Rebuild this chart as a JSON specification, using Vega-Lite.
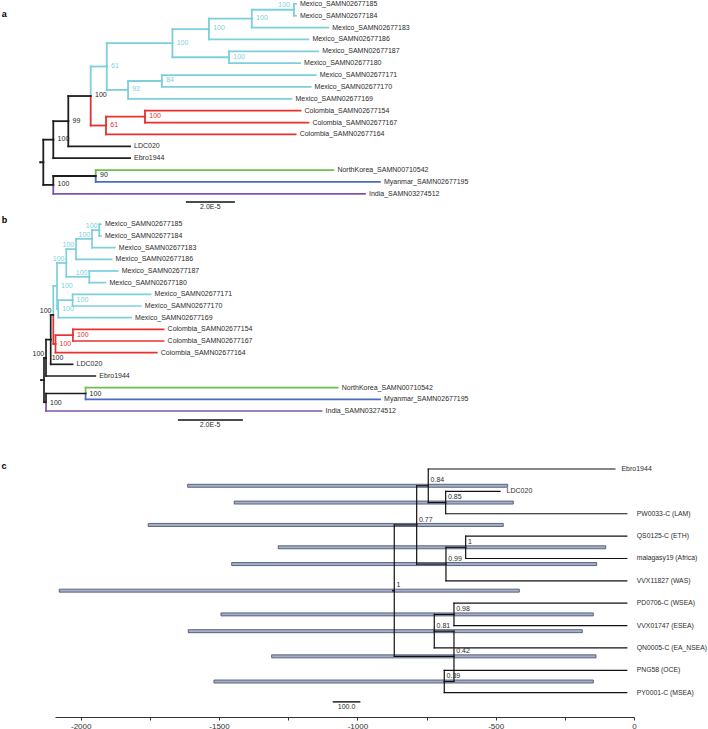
{
  "$schema": "https://vega.github.io/schema/vega-lite/v6.json",
  "width": 708,
  "height": 717,
  "autosize": {"type": "none"},
  "padding": {"left": 0, "top": 0, "right": 0, "bottom": 12},
  "background": "white",
  "config": {"view": {"stroke": null}, "font": "Liberation Sans"},
  "datasets": {
    "treeA": [
      {"id": "root", "clade": "Basal", "x": 0, "y": 13.346, "px": -1.2, "py": 13.346},
      {"id": "nIn", "clade": "Basal", "x": 4.08, "y": 11.441, "px": 0, "py": 13.346, "support": "100"},
      {"id": "nOut", "clade": "Basal", "x": 4.08, "y": 15.25, "px": 0, "py": 13.346, "support": "100"},
      {"id": "n99", "clade": "Basal", "x": 10.2, "y": 9.883, "px": 4.08, "py": 11.441, "support": "99"},
      {"id": "Ebro1944", "clade": "Basal", "x": 35.4, "y": 13, "px": 4.08, "py": 11.441, "name": "Ebro1944"},
      {"id": "nMC", "clade": "Basal", "x": 19.35, "y": 7.766, "px": 10.2, "py": 9.883, "support": "100"},
      {"id": "LDC020", "clade": "Basal", "x": 35.4, "y": 12, "px": 10.2, "py": 9.883, "name": "LDC020"},
      {"id": "nMex", "clade": "Mexico", "x": 25.9, "y": 5.281, "px": 19.35, "py": 7.766, "support": "61"},
      {"id": "nCol61", "clade": "Colombia", "x": 25.6, "y": 10.25, "px": 19.35, "py": 7.766, "support": "61"},
      {"id": "nUpper", "clade": "Mexico", "x": 52.7, "y": 3.313, "px": 25.9, "py": 5.281, "support": "100"},
      {"id": "n92", "clade": "Mexico", "x": 34.6, "y": 7.25, "px": 25.9, "py": 5.281, "support": "92"},
      {"id": "n186", "clade": "Mexico", "x": 67.6, "y": 2.125, "px": 52.7, "py": 3.313, "support": "100"},
      {"id": "n187_180", "clade": "Mexico", "x": 75.8, "y": 4.5, "px": 52.7, "py": 3.313, "support": "100"},
      {"id": "n183", "clade": "Mexico", "x": 85.1, "y": 1.25, "px": 67.6, "py": 2.125, "support": "100"},
      {"id": "M186", "clade": "Mexico", "x": 108.2, "y": 3, "px": 67.6, "py": 2.125, "name": "Mexico_SAMN02677186"},
      {"id": "n185_184", "clade": "Mexico", "x": 102.3, "y": 0.5, "px": 85.1, "py": 1.25, "support": "100"},
      {"id": "M183", "clade": "Mexico", "x": 116.3, "y": 2, "px": 85.1, "py": 1.25, "name": "Mexico_SAMN02677183"},
      {"id": "M185", "clade": "Mexico", "x": 103.1, "y": 0, "px": 102.3, "py": 0.5, "name": "Mexico_SAMN02677185"},
      {"id": "M184", "clade": "Mexico", "x": 103.1, "y": 1, "px": 102.3, "py": 0.5, "name": "Mexico_SAMN02677184"},
      {"id": "M187", "clade": "Mexico", "x": 112.2, "y": 4, "px": 75.8, "py": 4.5, "name": "Mexico_SAMN02677187"},
      {"id": "M180", "clade": "Mexico", "x": 104.8, "y": 5, "px": 75.8, "py": 4.5, "name": "Mexico_SAMN02677180"},
      {"id": "n84", "clade": "Mexico", "x": 48.4, "y": 6.5, "px": 34.6, "py": 7.25, "support": "84"},
      {"id": "M169", "clade": "Mexico", "x": 101.3, "y": 8, "px": 34.6, "py": 7.25, "name": "Mexico_SAMN02677169"},
      {"id": "M171", "clade": "Mexico", "x": 111.2, "y": 6, "px": 48.4, "py": 6.5, "name": "Mexico_SAMN02677171"},
      {"id": "M170", "clade": "Mexico", "x": 109.1, "y": 7, "px": 48.4, "py": 6.5, "name": "Mexico_SAMN02677170"},
      {"id": "nCol100", "clade": "Colombia", "x": 41.5, "y": 9.5, "px": 25.6, "py": 10.25, "support": "100"},
      {"id": "C164", "clade": "Colombia", "x": 103.0, "y": 11, "px": 25.6, "py": 10.25, "name": "Colombia_SAMN02677164"},
      {"id": "C154", "clade": "Colombia", "x": 105.0, "y": 9, "px": 41.5, "py": 9.5, "name": "Colombia_SAMN02677154"},
      {"id": "C167", "clade": "Colombia", "x": 108.2, "y": 10, "px": 41.5, "py": 9.5, "name": "Colombia_SAMN02677167"},
      {"id": "n90", "clade": "Basal", "x": 21.4, "y": 14.5, "px": 4.08, "py": 15.25, "support": "90"},
      {"id": "India", "clade": "India", "x": 131.3, "y": 16, "px": 4.08, "py": 15.25, "name": "India_SAMN03274512"},
      {"id": "NK", "clade": "NorthKorea", "x": 118.4, "y": 14, "px": 21.4, "py": 14.5, "name": "NorthKorea_SAMN00710542"},
      {"id": "Myanmar", "clade": "Myanmar", "x": 137.4, "y": 15, "px": 21.4, "py": 14.5, "name": "Myanmar_SAMN02677195"}
    ],
    "treeB": [
      {"id": "root", "clade": "Basal", "x": 0, "y": 13.346, "px": -0.9, "py": 13.346},
      {"id": "nIn", "clade": "Basal", "x": 0.62, "y": 11.441, "px": 0, "py": 13.346, "support": "100"},
      {"id": "nOut", "clade": "Basal", "x": 0.62, "y": 15.25, "px": 0, "py": 13.346, "support": "100"},
      {"id": "n99", "clade": "Basal", "x": 2.06, "y": 9.883, "px": 0.62, "py": 11.441, "support": "100"},
      {"id": "Ebro1944", "clade": "Basal", "x": 15.8, "y": 13, "px": 0.62, "py": 11.441, "name": "Ebro1944"},
      {"id": "nMC", "clade": "Basal", "x": 2.86, "y": 7.766, "px": 2.06, "py": 9.883, "support": "100"},
      {"id": "LDC020", "clade": "Basal", "x": 8.8, "y": 12, "px": 2.06, "py": 9.883, "name": "LDC020"},
      {"id": "nMex", "clade": "Mexico", "x": 4.0, "y": 5.281, "px": 2.86, "py": 7.766, "support": "100"},
      {"id": "nCol61", "clade": "Colombia", "x": 3.54, "y": 10.25, "px": 2.86, "py": 7.766, "support": "100"},
      {"id": "nUpper", "clade": "Mexico", "x": 6.86, "y": 3.313, "px": 4.0, "py": 5.281, "support": "100"},
      {"id": "n92", "clade": "Mexico", "x": 4.37, "y": 7.25, "px": 4.0, "py": 5.281, "support": "100"},
      {"id": "n186", "clade": "Mexico", "x": 9.85, "y": 2.125, "px": 6.86, "py": 3.313, "support": "100"},
      {"id": "n187_180", "clade": "Mexico", "x": 13.94, "y": 4.5, "px": 6.86, "py": 3.313, "support": "100"},
      {"id": "n183", "clade": "Mexico", "x": 14.77, "y": 1.25, "px": 9.85, "py": 2.125, "support": "100"},
      {"id": "M186", "clade": "Mexico", "x": 20.8, "y": 3, "px": 9.85, "py": 2.125, "name": "Mexico_SAMN02677186"},
      {"id": "n185_184", "clade": "Mexico", "x": 17.0, "y": 0.5, "px": 14.77, "py": 1.25, "support": "100"},
      {"id": "M183", "clade": "Mexico", "x": 21.8, "y": 2, "px": 14.77, "py": 1.25, "name": "Mexico_SAMN02677183"},
      {"id": "M185", "clade": "Mexico", "x": 17.5, "y": 0, "px": 17.0, "py": 0.5, "name": "Mexico_SAMN02677185"},
      {"id": "M184", "clade": "Mexico", "x": 17.5, "y": 1, "px": 17.0, "py": 0.5, "name": "Mexico_SAMN02677184"},
      {"id": "M187", "clade": "Mexico", "x": 22.7, "y": 4, "px": 13.94, "py": 4.5, "name": "Mexico_SAMN02677187"},
      {"id": "M180", "clade": "Mexico", "x": 18.9, "y": 5, "px": 13.94, "py": 4.5, "name": "Mexico_SAMN02677180"},
      {"id": "n171_170", "clade": "Mexico", "x": 8.8, "y": 6.5, "px": 4.37, "py": 7.25, "support": "100"},
      {"id": "M169", "clade": "Mexico", "x": 26.8, "y": 8, "px": 4.37, "py": 7.25, "name": "Mexico_SAMN02677169"},
      {"id": "M171", "clade": "Mexico", "x": 32.8, "y": 6, "px": 8.8, "py": 6.5, "name": "Mexico_SAMN02677171"},
      {"id": "M170", "clade": "Mexico", "x": 29.8, "y": 7, "px": 8.8, "py": 6.5, "name": "Mexico_SAMN02677170"},
      {"id": "nCol100", "clade": "Colombia", "x": 8.9, "y": 9.5, "px": 3.54, "py": 10.25, "support": "100"},
      {"id": "C164", "clade": "Colombia", "x": 34.7, "y": 11, "px": 3.54, "py": 10.25, "name": "Colombia_SAMN02677164"},
      {"id": "C154", "clade": "Colombia", "x": 36.8, "y": 9, "px": 8.9, "py": 9.5, "name": "Colombia_SAMN02677154"},
      {"id": "C167", "clade": "Colombia", "x": 36.8, "y": 10, "px": 8.9, "py": 9.5, "name": "Colombia_SAMN02677167"},
      {"id": "n90", "clade": "Basal", "x": 12.8, "y": 14.5, "px": 0.62, "py": 15.25, "support": "100"},
      {"id": "India", "clade": "India", "x": 85.4, "y": 16, "px": 0.62, "py": 15.25, "name": "India_SAMN03274512"},
      {"id": "NK", "clade": "NorthKorea", "x": 90.4, "y": 14, "px": 12.8, "py": 14.5, "name": "NorthKorea_SAMN00710542"},
      {"id": "Myanmar", "clade": "Myanmar", "x": 103.4, "y": 15, "px": 12.8, "py": 14.5, "name": "Myanmar_SAMN02677195"}
    ],
    "treeC": [
      {"id": "root", "x": -866.6, "y": 5.438, "px": -872, "py": 5.438, "support": "1"},
      {"id": "nE", "x": -785.6, "y": 2.5, "px": -866.6, "py": 5.438, "support": "0.77"},
      {"id": "nI", "x": -650.8, "y": 8.375, "px": -866.6, "py": 5.438, "support": "0.42"},
      {"id": "nB", "x": -743.7, "y": 0.75, "px": -785.6, "py": 2.5, "support": "0.84"},
      {"id": "nD", "x": -679.7, "y": 4.25, "px": -785.6, "py": 2.5, "support": "0.99"},
      {"id": "Ebro1944", "x": -69, "y": 0, "px": -743.7, "py": 0.75, "name": "Ebro1944"},
      {"id": "nA", "x": -680.8, "y": 1.5, "px": -743.7, "py": 0.75, "support": "0.85"},
      {"id": "LDC020", "x": -484, "y": 1, "px": -680.8, "py": 1.5, "name": "LDC020"},
      {"id": "PW0033", "x": -26, "y": 2, "px": -680.8, "py": 1.5, "name": "PW0033-C (LAM)"},
      {"id": "nC", "x": -608.5, "y": 3.5, "px": -679.7, "py": 4.25, "support": "1"},
      {"id": "VVX11827", "x": -26, "y": 5, "px": -679.7, "py": 4.25, "name": "VVX11827 (WAS)"},
      {"id": "QS0125", "x": -26, "y": 3, "px": -608.5, "py": 3.5, "name": "QS0125-C (ETH)"},
      {"id": "malagasy19", "x": -26, "y": 4, "px": -608.5, "py": 3.5, "name": "malagasy19 (Africa)"},
      {"id": "nG", "x": -722, "y": 7.25, "px": -650.8, "py": 8.375, "support": "0.81"},
      {"id": "nH", "x": -685.8, "y": 9.5, "px": -650.8, "py": 8.375, "support": "0.39"},
      {"id": "nF", "x": -650.8, "y": 6.5, "px": -722, "py": 7.25, "support": "0.98"},
      {"id": "QN0005", "x": -26, "y": 8, "px": -722, "py": 7.25, "name": "QN0005-C (EA_NSEA)"},
      {"id": "PD0706", "x": -26, "y": 6, "px": -650.8, "py": 6.5, "name": "PD0706-C (WSEA)"},
      {"id": "VVX01747", "x": -26, "y": 7, "px": -650.8, "py": 6.5, "name": "VVX01747 (ESEA)"},
      {"id": "PNG58", "x": -26, "y": 9, "px": -685.8, "py": 9.5, "name": "PNG58 (OCE)"},
      {"id": "PY0001", "x": -26, "y": 10, "px": -685.8, "py": 9.5, "name": "PY0001-C (MSEA)"}
    ],
    "hpd": [
      {"node": "nB", "lo": -1613.5, "hi": -456.6, "y": 0.75},
      {"node": "nA", "lo": -1445, "hi": -436.4, "y": 1.5},
      {"node": "nE", "lo": -1756, "hi": -472.5, "y": 2.5},
      {"node": "nC", "lo": -1286, "hi": -102.3, "y": 3.5},
      {"node": "nD", "lo": -1454.4, "hi": -134.8, "y": 4.25},
      {"node": "root", "lo": -2077.7, "hi": -414.7, "y": 5.438},
      {"node": "nF", "lo": -1493, "hi": -147.1, "y": 6.5},
      {"node": "nG", "lo": -1611.3, "hi": -186.9, "y": 7.25},
      {"node": "nI", "lo": -1309.8, "hi": -137.4, "y": 8.375},
      {"node": "nH", "lo": -1518.4, "hi": -147.1, "y": 9.5}
    ]
  },
  "layer": [
    {
      "data": {"name": "treeA"},
      "layer": [
        {
          "mark": {"type": "rule", "strokeWidth": 1.8, "strokeCap": "square"},
          "encoding": {
            "x": {"field": "px", "type": "quantitative", "scale": {"domain": [0, 140], "range": [43.3, 386.3], "zero": false, "nice": false}, "axis": null},
            "y": {"field": "py", "type": "quantitative", "scale": {"domain": [0, 16], "range": [3.8, 193.8], "zero": false, "nice": false}, "axis": null},
            "y2": {"field": "y"},
            "color": {"field": "clade", "type": "nominal", "scale": {"domain": ["Basal", "Mexico", "Colombia", "NorthKorea", "Myanmar", "India"], "range": ["#1e1e1e", "#7ccfdc", "#e8302f", "#6cbf4b", "#4b6cbf", "#7d57a6"]}, "legend": null}
          }
        },
        {
          "mark": {"type": "rule", "strokeWidth": 1.8, "strokeCap": "square"},
          "encoding": {
            "x": {"field": "px", "type": "quantitative", "scale": {"domain": [0, 140], "range": [43.3, 386.3], "zero": false, "nice": false}, "axis": null},
            "x2": {"field": "x"},
            "y": {"field": "y", "type": "quantitative", "scale": {"domain": [0, 16], "range": [3.8, 193.8], "zero": false, "nice": false}, "axis": null},
            "color": {"field": "clade", "type": "nominal", "scale": {"domain": ["Basal", "Mexico", "Colombia", "NorthKorea", "Myanmar", "India"], "range": ["#1e1e1e", "#7ccfdc", "#e8302f", "#6cbf4b", "#4b6cbf", "#7d57a6"]}, "legend": null}
          }
        },
        {
          "transform": [{"filter": "isValid(datum.name)"}],
          "mark": {"type": "text", "align": "left", "baseline": "middle", "dx": 4, "fontSize": 7, "color": "#2b2b2b"},
          "encoding": {
            "x": {"field": "x", "type": "quantitative", "scale": {"domain": [0, 140], "range": [43.3, 386.3], "zero": false, "nice": false}, "axis": null},
            "y": {"field": "y", "type": "quantitative", "scale": {"domain": [0, 16], "range": [3.8, 193.8], "zero": false, "nice": false}, "axis": null},
            "text": {"field": "name"}
          }
        },
        {
          "transform": [{"filter": "isValid(datum.support) && datum.id !== 'n185_184'"}],
          "mark": {"type": "text", "align": "left", "baseline": "middle", "dx": 4.3, "dy": -0.6, "fontSize": 7},
          "encoding": {
            "x": {"field": "x", "type": "quantitative", "scale": {"domain": [0, 140], "range": [43.3, 386.3], "zero": false, "nice": false}, "axis": null},
            "y": {"field": "y", "type": "quantitative", "scale": {"domain": [0, 16], "range": [3.8, 193.8], "zero": false, "nice": false}, "axis": null},
            "text": {"field": "support"},
            "color": {"field": "clade", "type": "nominal", "scale": {"domain": ["Basal", "Mexico", "Colombia", "NorthKorea", "Myanmar", "India"], "range": ["#1e1e1e", "#7ccfdc", "#e8302f", "#6cbf4b", "#4b6cbf", "#7d57a6"]}, "legend": null}
          }
        },
        {
          "transform": [{"filter": "datum.id === 'n185_184'"}],
          "mark": {"type": "text", "align": "right", "baseline": "middle", "dx": -4, "dy": -5, "fontSize": 7},
          "encoding": {
            "x": {"field": "x", "type": "quantitative", "scale": {"domain": [0, 140], "range": [43.3, 386.3], "zero": false, "nice": false}, "axis": null},
            "y": {"field": "y", "type": "quantitative", "scale": {"domain": [0, 16], "range": [3.8, 193.8], "zero": false, "nice": false}, "axis": null},
            "text": {"field": "support"},
            "color": {"field": "clade", "type": "nominal", "scale": {"domain": ["Basal", "Mexico", "Colombia", "NorthKorea", "Myanmar", "India"], "range": ["#1e1e1e", "#7ccfdc", "#e8302f", "#6cbf4b", "#4b6cbf", "#7d57a6"]}, "legend": null}
          }
        },
        {
          "data": {"values": [{"x": 58.2, "x2": 78.2, "y": 16.69}]},
          "mark": {"type": "rule", "strokeWidth": 1.7, "color": "#111111"},
          "encoding": {
            "x": {"field": "x", "type": "quantitative", "scale": {"domain": [0, 140], "range": [43.3, 386.3], "zero": false, "nice": false}, "axis": null},
            "x2": {"field": "x2"},
            "y": {"field": "y", "type": "quantitative", "scale": {"domain": [0, 16], "range": [3.8, 193.8], "zero": false, "nice": false}, "axis": null}
          }
        },
        {
          "data": {"values": [{"x": 68.2, "y": 17.15, "t": "2.0E-5"}]},
          "mark": {"type": "text", "align": "center", "baseline": "middle", "fontSize": 7, "color": "#2b2b2b"},
          "encoding": {
            "x": {"field": "x", "type": "quantitative", "scale": {"domain": [0, 140], "range": [43.3, 386.3], "zero": false, "nice": false}, "axis": null},
            "y": {"field": "y", "type": "quantitative", "scale": {"domain": [0, 16], "range": [3.8, 193.8], "zero": false, "nice": false}, "axis": null},
            "text": {"field": "t"}
          }
        },
        {
          "data": {"values": [{"x": -17, "y": 1.137, "t": "a"}]},
          "mark": {"type": "text", "align": "left", "baseline": "alphabetic", "fontSize": 9, "fontWeight": "bold", "color": "#000000"},
          "encoding": {
            "x": {"field": "x", "type": "quantitative", "scale": {"domain": [0, 140], "range": [43.3, 386.3], "zero": false, "nice": false}, "axis": null},
            "y": {"field": "y", "type": "quantitative", "scale": {"domain": [0, 16], "range": [3.8, 193.8], "zero": false, "nice": false}, "axis": null},
            "text": {"field": "t"}
          }
        }
      ]
    },
    {
      "data": {"name": "treeB"},
      "layer": [
        {
          "mark": {"type": "rule", "strokeWidth": 1.7, "strokeCap": "square"},
          "encoding": {
            "x": {"field": "px", "type": "quantitative", "scale": {"domain": [0, 110], "range": [44, 401.5], "zero": false, "nice": false}, "axis": null},
            "y": {"field": "py", "type": "quantitative", "scale": {"domain": [0, 16], "range": [224.3, 411], "zero": false, "nice": false}, "axis": null},
            "y2": {"field": "y"},
            "color": {"field": "clade", "type": "nominal", "scale": {"domain": ["Basal", "Mexico", "Colombia", "NorthKorea", "Myanmar", "India"], "range": ["#1e1e1e", "#7ccfdc", "#e8302f", "#6cbf4b", "#4b6cbf", "#7d57a6"]}, "legend": null}
          }
        },
        {
          "mark": {"type": "rule", "strokeWidth": 1.7, "strokeCap": "square"},
          "encoding": {
            "x": {"field": "px", "type": "quantitative", "scale": {"domain": [0, 110], "range": [44, 401.5], "zero": false, "nice": false}, "axis": null},
            "x2": {"field": "x"},
            "y": {"field": "y", "type": "quantitative", "scale": {"domain": [0, 16], "range": [224.3, 411], "zero": false, "nice": false}, "axis": null},
            "color": {"field": "clade", "type": "nominal", "scale": {"domain": ["Basal", "Mexico", "Colombia", "NorthKorea", "Myanmar", "India"], "range": ["#1e1e1e", "#7ccfdc", "#e8302f", "#6cbf4b", "#4b6cbf", "#7d57a6"]}, "legend": null}
          }
        },
        {
          "transform": [{"filter": "isValid(datum.name)"}],
          "mark": {"type": "text", "align": "left", "baseline": "middle", "dx": 4, "fontSize": 7, "color": "#2b2b2b"},
          "encoding": {
            "x": {"field": "x", "type": "quantitative", "scale": {"domain": [0, 110], "range": [44, 401.5], "zero": false, "nice": false}, "axis": null},
            "y": {"field": "y", "type": "quantitative", "scale": {"domain": [0, 16], "range": [224.3, 411], "zero": false, "nice": false}, "axis": null},
            "text": {"field": "name"}
          }
        },
        {
          "transform": [{"filter": {"field": "id", "oneOf": ["nMex", "n171_170", "n92", "nCol100", "nCol61", "n90", "nOut"]}}],
          "mark": {"type": "text", "align": "left", "baseline": "middle", "dx": 4, "dy": 0.3, "fontSize": 7},
          "encoding": {
            "x": {"field": "x", "type": "quantitative", "scale": {"domain": [0, 110], "range": [44, 401.5], "zero": false, "nice": false}, "axis": null},
            "y": {"field": "y", "type": "quantitative", "scale": {"domain": [0, 16], "range": [224.3, 411], "zero": false, "nice": false}, "axis": null},
            "text": {"field": "support"},
            "color": {"field": "clade", "type": "nominal", "scale": {"domain": ["Basal", "Mexico", "Colombia", "NorthKorea", "Myanmar", "India"], "range": ["#1e1e1e", "#7ccfdc", "#e8302f", "#6cbf4b", "#4b6cbf", "#7d57a6"]}, "legend": null}
          }
        },
        {
          "transform": [{"filter": {"field": "id", "oneOf": ["n185_184", "n183", "n186", "nUpper", "n187_180", "nMC", "nIn"]}}],
          "mark": {"type": "text", "align": "right", "baseline": "middle", "dx": -1.8, "dy": -4.3, "fontSize": 7},
          "encoding": {
            "x": {"field": "x", "type": "quantitative", "scale": {"domain": [0, 110], "range": [44, 401.5], "zero": false, "nice": false}, "axis": null},
            "y": {"field": "y", "type": "quantitative", "scale": {"domain": [0, 16], "range": [224.3, 411], "zero": false, "nice": false}, "axis": null},
            "text": {"field": "support"},
            "color": {"field": "clade", "type": "nominal", "scale": {"domain": ["Basal", "Mexico", "Colombia", "NorthKorea", "Myanmar", "India"], "range": ["#1e1e1e", "#7ccfdc", "#e8302f", "#6cbf4b", "#4b6cbf", "#7d57a6"]}, "legend": null}
          }
        },
        {
          "transform": [{"filter": "datum.id === 'n99'"}],
          "mark": {"type": "text", "align": "left", "baseline": "middle", "dx": 1, "dy": 18, "fontSize": 7},
          "encoding": {
            "x": {"field": "x", "type": "quantitative", "scale": {"domain": [0, 110], "range": [44, 401.5], "zero": false, "nice": false}, "axis": null},
            "y": {"field": "y", "type": "quantitative", "scale": {"domain": [0, 16], "range": [224.3, 411], "zero": false, "nice": false}, "axis": null},
            "text": {"field": "support"},
            "color": {"field": "clade", "type": "nominal", "scale": {"domain": ["Basal", "Mexico", "Colombia", "NorthKorea", "Myanmar", "India"], "range": ["#1e1e1e", "#7ccfdc", "#e8302f", "#6cbf4b", "#4b6cbf", "#7d57a6"]}, "legend": null}
          }
        },
        {
          "data": {"values": [{"x": 41.2, "x2": 61.2, "y": 16.77}]},
          "mark": {"type": "rule", "strokeWidth": 1.7, "color": "#111111"},
          "encoding": {
            "x": {"field": "x", "type": "quantitative", "scale": {"domain": [0, 110], "range": [44, 401.5], "zero": false, "nice": false}, "axis": null},
            "x2": {"field": "x2"},
            "y": {"field": "y", "type": "quantitative", "scale": {"domain": [0, 16], "range": [224.3, 411], "zero": false, "nice": false}, "axis": null}
          }
        },
        {
          "data": {"values": [{"x": 51.1, "y": 17.22, "t": "2.0E-5"}]},
          "mark": {"type": "text", "align": "center", "baseline": "middle", "fontSize": 7, "color": "#2b2b2b"},
          "encoding": {
            "x": {"field": "x", "type": "quantitative", "scale": {"domain": [0, 110], "range": [44, 401.5], "zero": false, "nice": false}, "axis": null},
            "y": {"field": "y", "type": "quantitative", "scale": {"domain": [0, 16], "range": [224.3, 411], "zero": false, "nice": false}, "axis": null},
            "text": {"field": "t"}
          }
        },
        {
          "data": {"values": [{"x": -13, "y": -0.086, "t": "b"}]},
          "mark": {"type": "text", "align": "left", "baseline": "alphabetic", "fontSize": 9, "fontWeight": "bold", "color": "#000000"},
          "encoding": {
            "x": {"field": "x", "type": "quantitative", "scale": {"domain": [0, 110], "range": [44, 401.5], "zero": false, "nice": false}, "axis": null},
            "y": {"field": "y", "type": "quantitative", "scale": {"domain": [0, 16], "range": [224.3, 411], "zero": false, "nice": false}, "axis": null},
            "text": {"field": "t"}
          }
        }
      ]
    },
    {
      "layer": [
        {
          "data": {"name": "hpd"},
          "mark": {"type": "bar", "orient": "horizontal", "size": 3, "fill": "#a6afca", "stroke": "#3f4763", "strokeWidth": 0.8},
          "encoding": {
            "x": {"field": "lo", "type": "quantitative", "scale": {"domain": [-2093, 0], "range": [55, 634], "zero": false, "nice": false},
                  "axis": {"title": null, "orient": "bottom", "values": [-2000, -1750, -1500, -1250, -1000, -750, -500, -250, 0], "labelExpr": "datum.value % 500 == 0 ? '' + datum.value : ''", "grid": false, "domainColor": "#333333", "domainWidth": 1.2, "tickColor": "#333333", "tickSize": 3, "tickWidth": 1, "labelFontSize": 8, "labelColor": "#333333", "labelFont": "Liberation Sans", "labelPadding": 2, "labelFlush": false, "labelOverlap": false}},
            "x2": {"field": "hi"},
            "y": {"field": "y", "type": "quantitative", "scale": {"domain": [0, 10], "range": [464, 697.7], "zero": false, "nice": false}, "axis": null}
          }
        },
        {
          "data": {"name": "treeC"},
          "mark": {"type": "rule", "strokeWidth": 1.2, "strokeCap": "square", "color": "#111111"},
          "encoding": {
            "x": {"field": "px", "type": "quantitative", "scale": {"domain": [-2093, 0], "range": [55, 634], "zero": false, "nice": false},
                  "axis": {"title": null, "orient": "bottom", "values": [-2000, -1750, -1500, -1250, -1000, -750, -500, -250, 0], "labelExpr": "datum.value % 500 == 0 ? '' + datum.value : ''", "grid": false, "domainColor": "#333333", "domainWidth": 1.2, "tickColor": "#333333", "tickSize": 3, "tickWidth": 1, "labelFontSize": 8, "labelColor": "#333333", "labelFont": "Liberation Sans", "labelPadding": 2, "labelFlush": false, "labelOverlap": false}},
            "y": {"field": "py", "type": "quantitative", "scale": {"domain": [0, 10], "range": [464, 697.7], "zero": false, "nice": false}, "axis": null},
            "y2": {"field": "y"}
          }
        },
        {
          "data": {"name": "treeC"},
          "mark": {"type": "rule", "strokeWidth": 1.2, "strokeCap": "square", "color": "#111111"},
          "encoding": {
            "x": {"field": "px", "type": "quantitative", "scale": {"domain": [-2093, 0], "range": [55, 634], "zero": false, "nice": false},
                  "axis": {"title": null, "orient": "bottom", "values": [-2000, -1750, -1500, -1250, -1000, -750, -500, -250, 0], "labelExpr": "datum.value % 500 == 0 ? '' + datum.value : ''", "grid": false, "domainColor": "#333333", "domainWidth": 1.2, "tickColor": "#333333", "tickSize": 3, "tickWidth": 1, "labelFontSize": 8, "labelColor": "#333333", "labelFont": "Liberation Sans", "labelPadding": 2, "labelFlush": false, "labelOverlap": false}},
            "x2": {"field": "x"},
            "y": {"field": "y", "type": "quantitative", "scale": {"domain": [0, 10], "range": [464, 697.7], "zero": false, "nice": false}, "axis": null}
          }
        },
        {
          "data": {"name": "treeC"},
          "transform": [{"filter": {"field": "id", "oneOf": ["Ebro1944", "LDC020"]}}],
          "mark": {"type": "text", "align": "left", "baseline": "middle", "dx": 6.5, "fontSize": 7, "color": "#2b2b2b"},
          "encoding": {
            "x": {"field": "x", "type": "quantitative", "scale": {"domain": [-2093, 0], "range": [55, 634], "zero": false, "nice": false},
                  "axis": {"title": null, "orient": "bottom", "values": [-2000, -1750, -1500, -1250, -1000, -750, -500, -250, 0], "labelExpr": "datum.value % 500 == 0 ? '' + datum.value : ''", "grid": false, "domainColor": "#333333", "domainWidth": 1.2, "tickColor": "#333333", "tickSize": 3, "tickWidth": 1, "labelFontSize": 8, "labelColor": "#333333", "labelFont": "Liberation Sans", "labelPadding": 2, "labelFlush": false, "labelOverlap": false}},
            "y": {"field": "y", "type": "quantitative", "scale": {"domain": [0, 10], "range": [464, 697.7], "zero": false, "nice": false}, "axis": null},
            "text": {"field": "name"}
          }
        },
        {
          "data": {"name": "treeC"},
          "transform": [{"filter": "isValid(datum.name) && datum.id !== 'Ebro1944' && datum.id !== 'LDC020'"}],
          "mark": {"type": "text", "align": "left", "baseline": "middle", "dx": 10, "fontSize": 6.8, "color": "#2b2b2b"},
          "encoding": {
            "x": {"field": "x", "type": "quantitative", "scale": {"domain": [-2093, 0], "range": [55, 634], "zero": false, "nice": false},
                  "axis": {"title": null, "orient": "bottom", "values": [-2000, -1750, -1500, -1250, -1000, -750, -500, -250, 0], "labelExpr": "datum.value % 500 == 0 ? '' + datum.value : ''", "grid": false, "domainColor": "#333333", "domainWidth": 1.2, "tickColor": "#333333", "tickSize": 3, "tickWidth": 1, "labelFontSize": 8, "labelColor": "#333333", "labelFont": "Liberation Sans", "labelPadding": 2, "labelFlush": false, "labelOverlap": false}},
            "y": {"field": "y", "type": "quantitative", "scale": {"domain": [0, 10], "range": [464, 697.7], "zero": false, "nice": false}, "axis": null},
            "text": {"field": "name"}
          }
        },
        {
          "data": {"name": "treeC"},
          "transform": [{"filter": "isValid(datum.support)"}],
          "mark": {"type": "text", "align": "left", "baseline": "middle", "dx": 2.3, "dy": -5.3, "fontSize": 7, "color": "#2b2b2b"},
          "encoding": {
            "x": {"field": "x", "type": "quantitative", "scale": {"domain": [-2093, 0], "range": [55, 634], "zero": false, "nice": false},
                  "axis": {"title": null, "orient": "bottom", "values": [-2000, -1750, -1500, -1250, -1000, -750, -500, -250, 0], "labelExpr": "datum.value % 500 == 0 ? '' + datum.value : ''", "grid": false, "domainColor": "#333333", "domainWidth": 1.2, "tickColor": "#333333", "tickSize": 3, "tickWidth": 1, "labelFontSize": 8, "labelColor": "#333333", "labelFont": "Liberation Sans", "labelPadding": 2, "labelFlush": false, "labelOverlap": false}},
            "y": {"field": "y", "type": "quantitative", "scale": {"domain": [0, 10], "range": [464, 697.7], "zero": false, "nice": false}, "axis": null},
            "text": {"field": "support"}
          }
        },
        {
          "data": {"values": [{"x": -1089, "x2": -989, "y": 10.41}]},
          "mark": {"type": "rule", "strokeWidth": 1.4, "color": "#111111"},
          "encoding": {
            "x": {"field": "x", "type": "quantitative", "scale": {"domain": [-2093, 0], "range": [55, 634], "zero": false, "nice": false},
                  "axis": {"title": null, "orient": "bottom", "values": [-2000, -1750, -1500, -1250, -1000, -750, -500, -250, 0], "labelExpr": "datum.value % 500 == 0 ? '' + datum.value : ''", "grid": false, "domainColor": "#333333", "domainWidth": 1.2, "tickColor": "#333333", "tickSize": 3, "tickWidth": 1, "labelFontSize": 8, "labelColor": "#333333", "labelFont": "Liberation Sans", "labelPadding": 2, "labelFlush": false, "labelOverlap": false}},
            "x2": {"field": "x2"},
            "y": {"field": "y", "type": "quantitative", "scale": {"domain": [0, 10], "range": [464, 697.7], "zero": false, "nice": false}, "axis": null}
          }
        },
        {
          "data": {"values": [{"x": -1039, "y": 10.64, "t": "100.0"}]},
          "mark": {"type": "text", "align": "center", "baseline": "middle", "fontSize": 7, "color": "#2b2b2b"},
          "encoding": {
            "x": {"field": "x", "type": "quantitative", "scale": {"domain": [-2093, 0], "range": [55, 634], "zero": false, "nice": false},
                  "axis": {"title": null, "orient": "bottom", "values": [-2000, -1750, -1500, -1250, -1000, -750, -500, -250, 0], "labelExpr": "datum.value % 500 == 0 ? '' + datum.value : ''", "grid": false, "domainColor": "#333333", "domainWidth": 1.2, "tickColor": "#333333", "tickSize": 3, "tickWidth": 1, "labelFontSize": 8, "labelColor": "#333333", "labelFont": "Liberation Sans", "labelPadding": 2, "labelFlush": false, "labelOverlap": false}},
            "y": {"field": "y", "type": "quantitative", "scale": {"domain": [0, 10], "range": [464, 697.7], "zero": false, "nice": false}, "axis": null},
            "text": {"field": "t"}
          }
        },
        {
          "data": {"values": [{"x": -2286, "y": 0, "t": "c"}]},
          "mark": {"type": "text", "align": "left", "baseline": "alphabetic", "fontSize": 9, "fontWeight": "bold", "color": "#000000"},
          "encoding": {
            "x": {"field": "x", "type": "quantitative", "scale": {"domain": [-2093, 0], "range": [55, 634], "zero": false, "nice": false},
                  "axis": {"title": null, "orient": "bottom", "values": [-2000, -1750, -1500, -1250, -1000, -750, -500, -250, 0], "labelExpr": "datum.value % 500 == 0 ? '' + datum.value : ''", "grid": false, "domainColor": "#333333", "domainWidth": 1.2, "tickColor": "#333333", "tickSize": 3, "tickWidth": 1, "labelFontSize": 8, "labelColor": "#333333", "labelFont": "Liberation Sans", "labelPadding": 2, "labelFlush": false, "labelOverlap": false}},
            "y": {"field": "y", "type": "quantitative", "scale": {"domain": [0, 10], "range": [464, 697.7], "zero": false, "nice": false}, "axis": null},
            "text": {"field": "t"}
          }
        }
      ]
    }
  ],
  "resolve": {"scale": {"x": "independent", "y": "independent"}}
}
